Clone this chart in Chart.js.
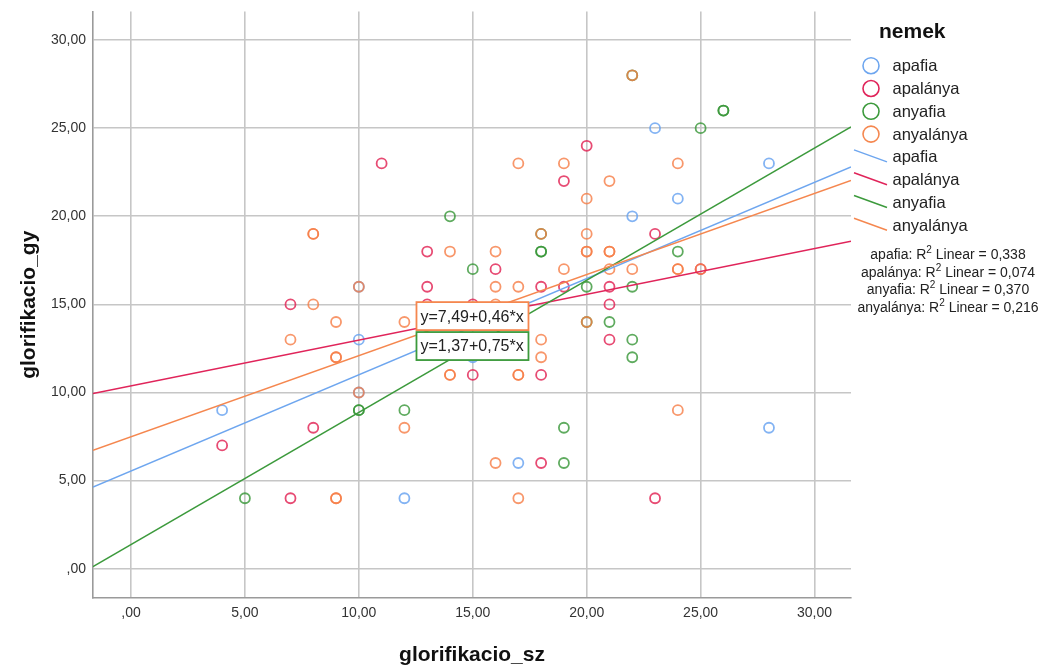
<!DOCTYPE html>
<html><head><meta charset="utf-8">
<script src="https://cdn.jsdelivr.net/npm/chart.js@4.4.1/dist/chart.umd.min.js"></script>
<style>html,body{margin:0;padding:0;background:#fff;overflow:hidden}#wrap{width:1047px;height:668px;position:relative}</style>
</head><body><div id="wrap"><canvas id="c" width="1047" height="668"></canvas></div>
<script>
// ---- data ----
const seriesNames = ['apafia', 'apalánya', 'anyafia', 'anyalánya'];

const apafiaX = [4, 10, 12, 15, 17, 22, 23, 24, 28, 28, 10, 10];
const apafiaY = [9, 13, 4, 12, 6, 20, 25, 21, 23, 8, 16, 10];

const apalanyaX = [4, 7, 7, 8, 11, 13, 13, 13, 15, 15, 16, 18, 18, 18, 19, 19, 20, 21, 21, 21, 23, 23, 25];
const apalanyaY = [7, 4, 15, 8, 23, 18, 16, 15, 15, 11, 17, 16, 11, 6, 22, 16, 24, 16, 15, 13, 19, 4, 17];

const anyafiaX = [5, 10, 10, 12, 14, 15, 18, 18, 18, 19, 19, 20, 20, 21, 22, 22, 22, 24, 25, 26, 26, 22];
const anyafiaY = [4, 9, 9, 9, 20, 17, 18, 18, 19, 8, 6, 16, 14, 14, 16, 13, 12, 18, 25, 26, 26, 28];

const anyalanyaX = [7, 8, 8, 8, 9, 9, 9, 9, 9, 10, 10, 12, 12, 14, 14, 14, 16, 16, 16, 16, 17, 17, 17, 17, 17, 18, 18, 18, 19, 19, 20, 20, 20, 20, 20, 21, 21, 21, 21, 22, 22, 24, 24, 24, 24, 25];
const anyalanyaY = [13, 19, 19, 15, 14, 12, 12, 4, 4, 16, 10, 14, 8, 18, 11, 11, 18, 16, 15, 6, 23, 16, 11, 11, 4, 19, 13, 12, 23, 17, 21, 19, 18, 18, 14, 22, 18, 18, 17, 28, 17, 23, 17, 17, 9, 17];

// linear fit lines (intercept, slope)
const fitIntercept = [5.55, 10.37, 1.37, 7.49];
const fitSlope = [0.546, 0.26, 0.75, 0.46];

const r2Values = ['0,338', '0,074', '0,370', '0,216'];
const equationTexts = ['y=7,49+0,46*x', 'y=1,37+0,75*x'];

const xTickValues = [0, 5, 10, 15, 20, 25, 30];
const xTickLabels = [',00', '5,00', '10,00', '15,00', '20,00', '25,00', '30,00'];
const yTickValues = [0, 5, 10, 15, 20, 25, 30];
const yTickLabels = [',00', '5,00', '10,00', '15,00', '20,00', '25,00', '30,00'];

// ---- styles ----
const X_MIN = -1.667, X_MAX = 31.6, Y_MIN = -1.66, Y_MAX = 31.62;
const markerColors = ['rgba(100,160,240,0.8)', 'rgba(225,30,80,0.8)', 'rgba(55,150,55,0.8)', 'rgba(246,125,70,0.8)'];
const solidColors = ['#6ea6ef', '#e0245a', '#3c9a3c', '#f5874f'];
const FONT = '"Liberation Sans", Arial, sans-serif';

const xs = [apafiaX, apalanyaX, anyafiaX, anyalanyaX];
const ys = [apafiaY, apalanyaY, anyafiaY, anyalanyaY];

const datasets = [];
for (let i = 0; i < 4; i++) {
  datasets.push({
    type: 'scatter',
    label: seriesNames[i],
    data: xs[i].map((x, k) => ({x: x, y: ys[i][k]})),
    borderColor: markerColors[i],
    backgroundColor: 'rgba(0,0,0,0)',
    pointRadius: 5,
    pointBorderWidth: 1.8,
    order: 20 - i
  });
}
for (let i = 0; i < 4; i++) {
  datasets.push({
    type: 'line',
    label: seriesNames[i] + ' fit',
    data: [X_MIN, X_MAX].map(x => ({x: x, y: fitIntercept[i] + fitSlope[i] * x})),
    borderColor: solidColors[i],
    borderWidth: 1.5,
    pointRadius: 0,
    fill: false,
    order: 10 - i
  });
}

const eqBoxes = [
  {idx: 0, color: solidColors[3], x: 12.53, y: 15.13},
  {idx: 1, color: solidColors[2], x: 12.53, y: 13.43}
];

const overlayPlugin = {
  id: 'overlay',
  afterDatasetsDraw(chart) {
    const c = chart.ctx, sx = chart.scales.x, sy = chart.scales.y;
    c.save();
    eqBoxes.forEach(b => {
      const left = sx.getPixelForValue(b.x), top = sy.getPixelForValue(b.y);
      const w = 112, h = 28;
      c.fillStyle = '#fff';
      c.fillRect(left, top, w, h);
      c.strokeStyle = b.color; c.lineWidth = 1.8;
      c.strokeRect(left, top, w, h);
      c.fillStyle = '#222';
      c.font = '16px ' + FONT;
      c.textBaseline = 'middle'; c.textAlign = 'left';
      c.fillText(equationTexts[b.idx], left + 4, top + h / 2 + 1);
    });
    c.restore();
  },
  afterDraw(chart) {
    const c = chart.ctx;
    c.save();
    c.textBaseline = 'middle'; c.textAlign = 'left';
    c.fillStyle = '#111';
    c.font = 'bold 21px ' + FONT;
    c.fillText('nemek', 879, 32);
    c.font = '16.5px ' + FONT;
    const rowH = 22.8, row0 = 65.7;
    for (let i = 0; i < 4; i++) {
      const y = row0 + i * rowH;
      c.beginPath(); c.arc(871, y, 8, 0, Math.PI * 2);
      c.strokeStyle = solidColors[i]; c.lineWidth = 1.6; c.stroke();
      c.fillStyle = '#222'; c.fillText(seriesNames[i], 892.5, y + 1);
    }
    for (let i = 0; i < 4; i++) {
      const y = row0 + (i + 4) * rowH;
      c.beginPath(); c.moveTo(854, y - 7); c.lineTo(887, y + 5);
      c.strokeStyle = solidColors[i]; c.lineWidth = 1.5; c.stroke();
      c.fillStyle = '#222'; c.fillText(seriesNames[i], 892.5, y + 1);
    }
    const cx = 948;
    const r2Rows = [255, 273, 290.5, 308];
    for (let i = 0; i < 4; i++) {
      const a = seriesNames[i] + ': R', s = '2', b = ' Linear = ' + r2Values[i];
      c.font = '14px ' + FONT; const wa = c.measureText(a).width, wb = c.measureText(b).width;
      c.font = '10px ' + FONT; const ws = c.measureText(s).width;
      let x = cx - (wa + ws + wb) / 2;
      const y = r2Rows[i];
      c.fillStyle = '#222';
      c.font = '14px ' + FONT; c.fillText(a, x, y); x += wa;
      c.font = '10px ' + FONT; c.fillText(s, x, y - 5); x += ws;
      c.font = '14px ' + FONT; c.fillText(b, x, y);
    }
    c.restore();
  }
};

const gridOpts = {color: '#c6c6c6', lineWidth: 1.6, drawTicks: false};
const borderOpts = {color: '#9a9a9a', width: 1.6};

new Chart(document.getElementById('c').getContext('2d'), {
  type: 'scatter',
  data: {datasets: datasets},
  plugins: [overlayPlugin],
  options: {
    responsive: false,
    animation: false,
    devicePixelRatio: 1,
    events: [],
    layout: {padding: {top: 11.5, right: 196, left: 0, bottom: 0}},
    plugins: {legend: {display: false}, tooltip: {enabled: false}},
    scales: {
      x: {
        type: 'linear', min: X_MIN, max: X_MAX,
        afterFit(s) { s.height = 70; s.paddingLeft = 0; s.paddingRight = 0; },
        afterBuildTicks(s) { s.ticks = xTickValues.map(v => ({value: v})); },
        ticks: {callback: (v, i) => xTickLabels[i], padding: 7, color: '#333', font: {family: FONT, size: 14}, maxRotation: 0},
        grid: gridOpts, border: borderOpts,
        title: {display: true, text: 'glorifikacio_sz', color: '#111', font: {family: FONT, size: 21, weight: 'bold'}, padding: {top: 0, bottom: 0}}
      },
      y: {
        type: 'linear', min: Y_MIN, max: Y_MAX,
        afterFit(s) { s.width = 93; s.paddingTop = 0; s.paddingBottom = 0; },
        afterBuildTicks(s) { s.ticks = yTickValues.map(v => ({value: v})); },
        ticks: {callback: (v, i) => yTickLabels[i], padding: 7, color: '#333', font: {family: FONT, size: 14}},
        grid: gridOpts, border: borderOpts,
        title: {display: true, text: 'glorifikacio_gy', color: '#111', font: {family: FONT, size: 21, weight: 'bold'}, padding: {top: 17, bottom: 0}}
      }
    }
  }
});
</script></body></html>
